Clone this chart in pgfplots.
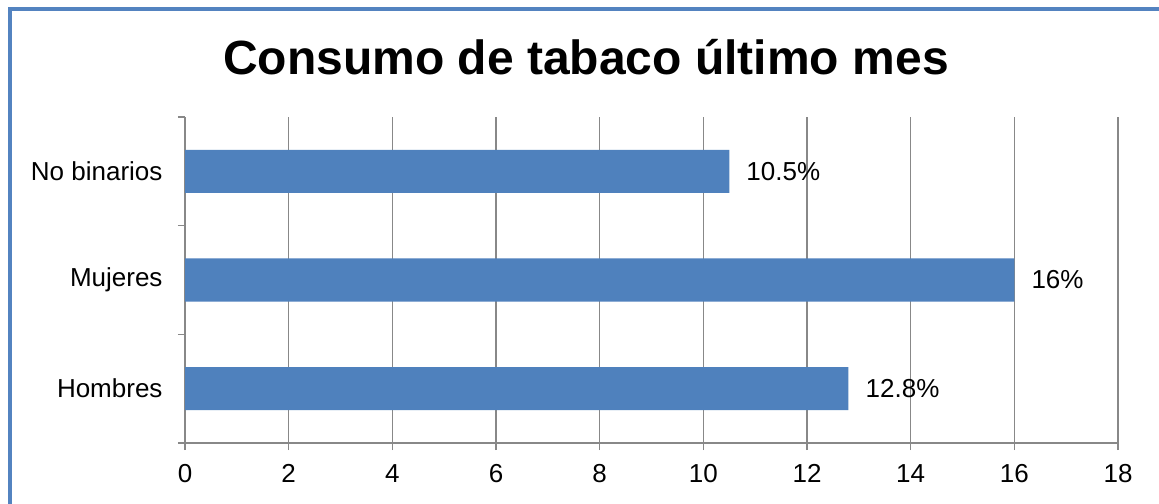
\documentclass[border=0pt]{standalone}
\usepackage{fontspec}
\setmainfont{Liberation Sans}
\usepackage{pgfplots}
\pgfplotsset{compat=1.18}
\definecolor{barblue}{HTML}{4F81BD}
\definecolor{framblue}{HTML}{5383C0}
\definecolor{gridgray}{HTML}{888888}
\begin{document}
\begin{tikzpicture}
\useasboundingbox (0,0) rectangle (1159bp,504bp);
\begin{scope}
\clip (0,0) rectangle (1159bp,504bp);
\fill[white] (0,0) rectangle (1159bp,504bp);
\draw[line width=4.5bp, color=framblue] (10bp,495bp) rectangle (1250bp,-50bp);
\end{scope}
\node[anchor=base, inner sep=0pt, font=\fontsize{48bp}{56bp}\selectfont\bfseries] at (586bp,429bp) {Consumo de tabaco último mes};
\begin{axis}[
  at={(185bp,61bp)}, anchor=south west,
  scale only axis, width=933bp, height=326bp,
  xbar, bar width=43bp,
  xmin=0, xmax=18, ymin=-0.5, ymax=2.5,
  xtick={0,2,...,18},
  ytick={-0.5,0.5,1.5,2.5},
  yticklabels={},
  extra y ticks={0,1,2},
  extra y tick labels={Hombres,Mujeres,No binarios},
  extra y tick style={major tick length=0pt},
  axis x line*=bottom, axis y line*=left,
  axis line style={gridgray, line width=1.5bp, -},
  xmajorgrids, grid style={gridgray, line width=1.5bp},
  tick align=outside,
  tick style={gridgray, line width=1.5bp},
  major tick length=7bp,
  tick label style={font=\fontsize{26bp}{30bp}\selectfont, text=black},
  /pgf/number format/assume math mode=true,
  yticklabel style={xshift=-19bp},
  xticklabel style={yshift=-11bp},
  nodes near coords,
  point meta=explicit symbolic,
  every node near coord/.append style={anchor=west, inner sep=0pt, xshift=17bp, font=\fontsize{26bp}{30bp}\selectfont, text=black},
  clip=false,
]
\addplot[fill=barblue, draw=none] table[meta=lab] {
x y lab
12.8 0 12.8\%
16 1 16\%
10.5 2 10.5\%
};
\end{axis}
\end{tikzpicture}
\end{document}
